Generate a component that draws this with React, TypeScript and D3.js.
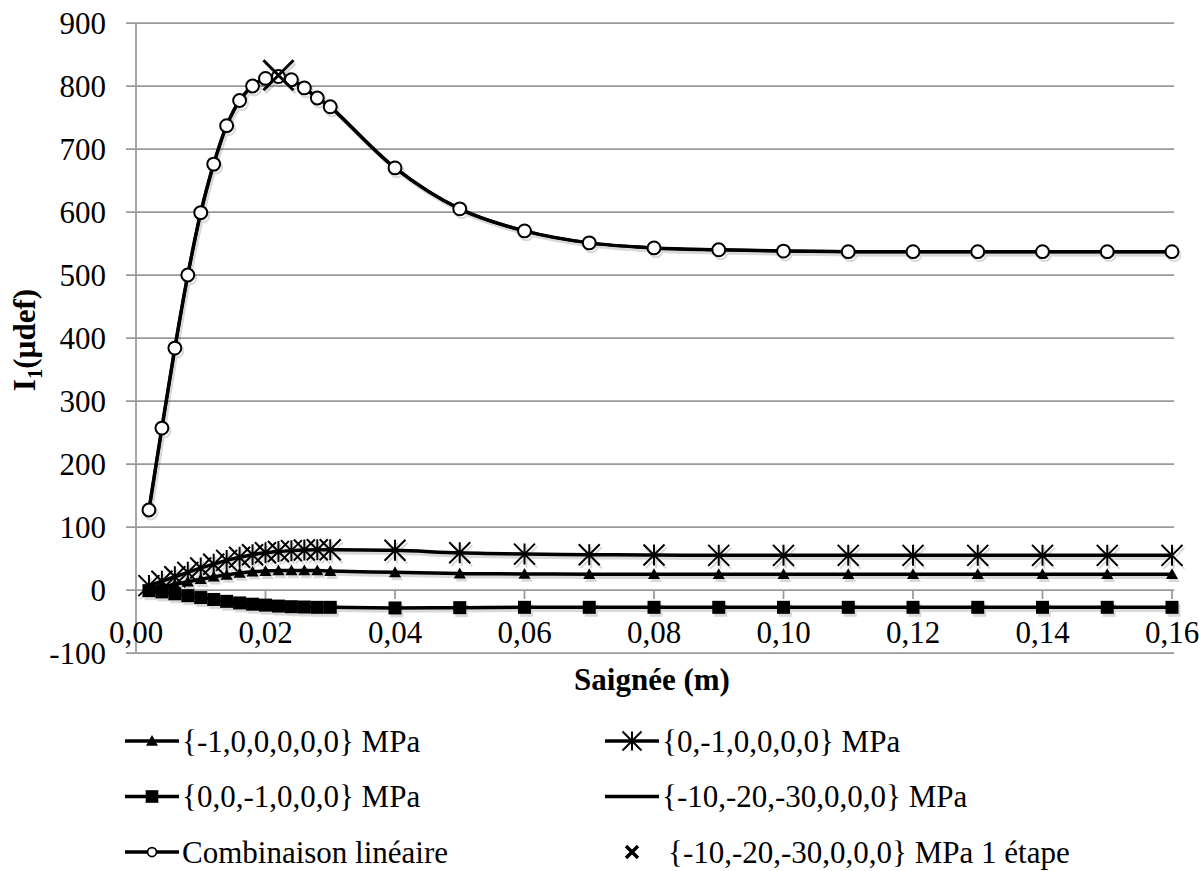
import React from 'react'
import * as d3 from 'd3'

// Saignée (m) – abscisses communes à toutes les séries
const saignee = [
  0.002, 0.004, 0.006, 0.008, 0.010, 0.012, 0.014, 0.016, 0.018, 0.020, 0.022, 0.024, 0.026, 0.028, 0.030,
  0.04, 0.05, 0.06, 0.07, 0.08, 0.09, 0.10, 0.11, 0.12, 0.13, 0.14, 0.15, 0.16,
]
// I1 (µdef) par chargement
const chargeSxx = [2, 5, 9, 13, 17, 21, 24, 27, 29, 30, 31, 31, 31, 31, 30, 28, 26, 25.5, 25, 25, 25, 25, 25, 25, 25, 25, 25, 25]
const chargeSyy = [7, 14, 21, 28, 35, 41, 47, 52, 56, 59, 61, 62.5, 63.5, 64, 64, 63, 59, 57, 56, 55.5, 55, 55, 55, 55, 55, 55, 55, 55]
const chargeSzz = [-1, -3, -6, -9, -12, -15, -18, -20.5, -22.5, -24, -25.5, -26.5, -27, -27.5, -27.5, -28.5, -28, -27.5, -27.5, -27.5, -27.5, -27.5, -27.5, -27.5, -27.5, -27.5, -27.5, -27.5]
const chargeTotale = [127, 257, 384, 500, 599, 676, 737, 777, 800, 812, 815, 810, 797, 781, 767, 670, 605, 570, 551, 543, 540, 538, 537, 537, 537, 537, 537, 537]
const combinaison = [127, 257, 384, 500, 599, 676, 737, 777, 800, 812, 815, 810, 797, 781, 767, 670, 605, 570, 551, 543, 540, 538, 537, 537, 537, 537, 537, 537]
// calcul en 1 étape
const etapeX = [0.022]
const etapeY = [817]

const xTicks = [0, 0.02, 0.04, 0.06, 0.08, 0.10, 0.12, 0.14, 0.16]
const yTicks = [900, 800, 700, 600, 500, 400, 300, 200, 100, 0, -100]

const legendLabels = [
  '{-1,0,0,0,0,0} MPa',
  '{0,-1,0,0,0,0} MPa',
  '{0,0,-1,0,0,0} MPa',
  '{-10,-20,-30,0,0,0} MPa',
  'Combinaison linéaire',
  '{-10,-20,-30,0,0,0} MPa 1 étape',
]

// le texte est dessiné en 36px puis réduit, la police serif ne sortait pas en dessous
const BASE = 36
const SIZE = 31

function T({ x, y, anchor, bold, rotate, children }: {
  x: number; y: number; anchor?: 'start' | 'middle' | 'end'; bold?: boolean; rotate?: number; children: React.ReactNode
}) {
  return (
    <text
      transform={`translate(${x},${y})${rotate ? ` rotate(${rotate})` : ''} scale(${SIZE / BASE})`}
      textAnchor={anchor || 'start'}
      style={{ fontFamily: "'Liberation Serif'", fontSize: BASE, fontWeight: bold ? 'bold' : 'normal' }}
    >
      {children}
    </text>
  )
}

function starPath(s: number) {
  const h = s / 2
  return `M${-h},${-h}L${h},${h}M${-h},${h}L${h},${-h}M0,${-h}L0,${h}`
}
function crossPath(s: number) {
  const h = s / 2
  return `M${-h},${-h}L${h},${h}M${-h},${h}L${h},${-h}`
}
function trianglePath(s: number) {
  const h = s / 2
  return `M0,${-h}L${h},${h * 0.8}L${-h},${h * 0.8}Z`
}

const x = d3.scaleLinear().domain([0, 0.16]).range([136, 1172])
const y = d3.scaleLinear().domain([-100, 900]).range([653, 23])

const line = (vals: number[]) =>
  d3.line<number>()
    .x((_, i) => x(saignee[i]))
    .y(d => y(d))
    .curve(d3.curveCatmullRom.alpha(0.5))(vals) || ''

const squarePath = d3.symbol(d3.symbolSquare, 169)() || ''
const circlePath = d3.symbol(d3.symbolCircle, 130)() || ''
const legSquare = d3.symbol(d3.symbolSquare, 160)() || ''

function Marks({ vals, d, fill, stroke, sw }: { vals: number[]; d: string; fill: string; stroke: string; sw: number }) {
  return (
    <g>
      {vals.map((v, i) => (
        <path key={i} transform={`translate(${x(saignee[i])},${y(v)})`} d={d} fill={fill} stroke={stroke} strokeWidth={sw} />
      ))}
    </g>
  )
}

function Series({ shadow }: { shadow: boolean }) {
  const k = '#000'
  return (
    <g transform={shadow ? 'translate(2,3)' : undefined} opacity={shadow ? 0.15 : 1}>
      <path d={line(chargeSxx)} fill="none" stroke={k} strokeWidth={3.5} />
      <Marks vals={chargeSxx} d={trianglePath(12)} fill={k} stroke="none" sw={0} />
      <path d={line(chargeSyy)} fill="none" stroke={k} strokeWidth={3.5} />
      <Marks vals={chargeSyy} d={starPath(21)} fill="none" stroke={k} sw={2} />
      <path d={line(chargeSzz)} fill="none" stroke={k} strokeWidth={3.5} />
      <Marks vals={chargeSzz} d={squarePath} fill={k} stroke="none" sw={0} />
      <path d={line(chargeTotale)} fill="none" stroke={k} strokeWidth={3.5} />
      <path d={line(combinaison)} fill="none" stroke={k} strokeWidth={3} />
      <Marks vals={combinaison} d={circlePath} fill={shadow ? 'none' : '#fff'} stroke={k} sw={2} />
      {etapeY.map((v, i) => (
        <path key={i} transform={`translate(${x(etapeX[i])},${y(v)})`} d={crossPath(30)} fill="none" stroke={k} strokeWidth={3} />
      ))}
    </g>
  )
}

function App() {
  const rows = [741, 796.5, 852]
  const cols = [125, 605]
  const grid = '#9a9a9a'

  return (
    <div style={{ position: 'absolute', left: 0, top: 0 }}>
      <svg width={1199} height={871}>
        {/* grille */}
        {yTicks.map(t => (
          <line key={t} x1={126} x2={1174} y1={y(t)} y2={y(t)} stroke={grid} strokeWidth={1.75} />
        ))}
        <line x1={x(0)} x2={x(0)} y1={y(900)} y2={y(-100)} stroke={grid} strokeWidth={1.75} />
        {xTicks.map(t => (
          <line key={t} x1={x(t)} x2={x(t)} y1={y(0)} y2={y(0) + 9} stroke={grid} strokeWidth={1.75} />
        ))}

        {/* libellés */}
        {yTicks.map(t => (
          <T key={t} x={106} y={y(t) + 10.5} anchor="end">{t}</T>
        ))}
        {xTicks.map(t => (
          <T key={t} x={x(t)} y={643} anchor="middle">{d3.format('.2f')(t).replace('.', ',')}</T>
        ))}
        <T x={652} y={690} anchor="middle" bold>Saignée (m)</T>
        <T x={35} y={340} anchor="middle" bold rotate={-90}>
          I<tspan dy={8} style={{ fontSize: 24 }}>1</tspan><tspan dy={-8}>(µdef)</tspan>
        </T>

        {/* séries */}
        <Series shadow={true} />
        <Series shadow={false} />

        {/* légende */}
        {legendLabels.map((lab, k) => {
          const cx = cols[k % 2]
          const cy = rows[Math.floor(k / 2)]
          return (
            <g key={k} transform={`translate(${cx},${cy})`}>
              {k < 5 && <line x1={0} x2={54} stroke="#000" strokeWidth={3.5} />}
              <g transform="translate(27,0)">
                {k === 0 && <path d={trianglePath(12)} fill="#000" />}
                {k === 1 && <path d={starPath(19)} fill="none" stroke="#000" strokeWidth={2} />}
                {k === 2 && <path d={legSquare} fill="#000" />}
                {k === 4 && <circle r={4.5} fill="#fff" stroke="#000" strokeWidth={1.75} />}
                {k === 5 && <path d={crossPath(12)} fill="none" stroke="#000" strokeWidth={3.5} />}
              </g>
              <T x={k === 5 ? 63 : 57} y={10.5}>{lab}</T>
            </g>
          )
        })}
      </svg>
    </div>
  )
}

export default App
